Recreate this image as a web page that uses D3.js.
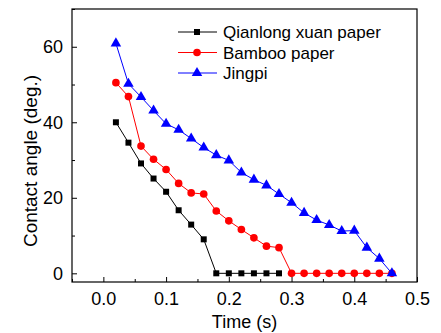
<!DOCTYPE html>
<html>
<head>
<meta charset="utf-8">
<script src="https://cdn.jsdelivr.net/npm/d3@7"></script>
<style>
body { margin: 0; background: #fff; }
text { font-family: Arial, "Liberation Sans", sans-serif; fill: #000; }
</style>
</head>
<body>
<div id="chart"></div>
<script>
// data
var seriesNames = ["Qianlong xuan paper", "Bamboo paper", "Jingpi"];
var seriesColors = ["#000000", "#ff0000", "#0000ff"];
var seriesShapes = ["square", "circle", "triangle"];

var qianlongTime = [0.02, 0.04, 0.06, 0.08, 0.10, 0.12, 0.14, 0.16, 0.18, 0.20, 0.22, 0.24, 0.26, 0.28];
var qianlongAngle = [40.0, 34.6, 29.1, 25.1, 21.6, 16.7, 12.9, 9.0, 0, 0, 0, 0, 0, 0];

var bambooTime = [0.02, 0.04, 0.06, 0.08, 0.10, 0.12, 0.14, 0.16, 0.18, 0.20, 0.22, 0.24, 0.26, 0.28,
	0.30, 0.32, 0.34, 0.36, 0.38, 0.40, 0.42, 0.44, 0.46];
var bambooAngle = [50.5, 46.8, 33.7, 30.2, 27.5, 23.8, 21.3, 21.0, 16.5, 13.9, 11.6, 9.4, 7.2, 6.8,
	0, 0, 0, 0, 0, 0, 0, 0, 0];

var jingpiTime = [0.02, 0.04, 0.06, 0.08, 0.10, 0.12, 0.14, 0.16, 0.18, 0.20, 0.22, 0.24, 0.26, 0.28,
	0.30, 0.32, 0.34, 0.36, 0.38, 0.40, 0.42, 0.44, 0.46];
var jingpiAngle = [60.9, 50.2, 46.7, 43.1, 39.6, 38.0, 35.7, 33.3, 31.3, 29.9, 26.7, 24.8, 23.3, 21.0,
	18.7, 16.0, 14.1, 12.8, 11.2, 11.3, 6.8, 3.9, 0];

var xTicks = [0.0, 0.1, 0.2, 0.3, 0.4, 0.5];
var yTicks = [0, 20, 40, 60];
var xTitle = "Time (s)";
var yTitle = "Contact angle (deg.)";

var w = 441;
var h = 333;
var margin = {top: 9, right: 24, bottom: 51, left: 72};
var pw = w - margin.left - margin.right;
var ph = h - margin.top - margin.bottom;

var series = [
	{name: seriesNames[0], color: seriesColors[0], shape: seriesShapes[0], t: qianlongTime, v: qianlongAngle},
	{name: seriesNames[1], color: seriesColors[1], shape: seriesShapes[1], t: bambooTime, v: bambooAngle},
	{name: seriesNames[2], color: seriesColors[2], shape: seriesShapes[2], t: jingpiTime, v: jingpiAngle}
];

var x = d3.scaleLinear().domain([-0.05, 0.5]).range([0, pw]);
var y = d3.scaleLinear().domain([-2.3, 70]).range([ph, 0]);

var svg = d3.select("#chart").append("svg")
	.attr("width", w)
	.attr("height", h);

var chart = svg.append("g")
	.attr("transform", "translate(" + margin.left + "," + margin.top + ")");

function symbolFor(shape) {
	if (shape == "square") return d3.symbol().type(d3.symbolSquare).size(36);
	if (shape == "circle") return d3.symbol().type(d3.symbolCircle).size(46);
	return d3.symbol().type(d3.symbolTriangle).size(48);
}

// axes, ticks pointing inwards
var xAxis = d3.axisBottom(x).tickValues(xTicks).tickSize(-5).tickPadding(10)
	.tickFormat(d3.format(".1f"));
var xMinor = d3.axisBottom(x).tickValues([-0.05, 0.05, 0.15, 0.25, 0.35, 0.45]).tickSize(-3).tickFormat("");
var yAxis = d3.axisLeft(y).tickValues(yTicks).tickSize(-5).tickPadding(9);
var yMinor = d3.axisLeft(y).tickValues([10, 30, 50, 70]).tickSize(-3).tickFormat("");

function styleAxis(g) {
	g.select(".domain").remove();
	g.selectAll("line").attr("stroke", "#000").attr("stroke-width", 1);
	g.selectAll("text").style("font-size", "18px").attr("fill", "#000");
}

chart.append("g").attr("transform", "translate(0," + ph + ")").call(xAxis).call(styleAxis);
chart.append("g").attr("transform", "translate(0," + ph + ")").call(xMinor).call(styleAxis);
chart.append("g").call(yAxis).call(styleAxis);
chart.append("g").call(yMinor).call(styleAxis);

// frame
chart.append("rect")
	.attr("x", 0)
	.attr("y", 0)
	.attr("width", pw)
	.attr("height", ph)
	.attr("fill", "none")
	.attr("stroke", "#000")
	.attr("stroke-width", 1.2);

var line = d3.line()
	.x(function(d) { return x(d[0]); })
	.y(function(d) { return y(d[1]); });

series.forEach(function(s) {
	var pts = s.t.map(function(t, i) { return [t, s.v[i]]; });
	chart.append("path")
		.datum(pts)
		.attr("fill", "none")
		.attr("stroke", s.color)
		.attr("stroke-width", 1)
		.attr("d", line);
	chart.selectAll(null)
		.data(pts).enter()
		.append("path")
		.attr("d", symbolFor(s.shape))
		.attr("fill", s.color)
		.attr("transform", function(d) { return "translate(" + x(d[0]) + "," + y(d[1]) + ")"; });
});

// legend
var legend = svg.append("g");
series.forEach(function(s, i) {
	var ly = 32 + i * 20.5;
	legend.append("line")
		.attr("x1", 178).attr("x2", 217)
		.attr("y1", ly).attr("y2", ly)
		.attr("stroke", s.color)
		.attr("stroke-width", 1);
	legend.append("path")
		.attr("d", symbolFor(s.shape))
		.attr("fill", s.color)
		.attr("transform", "translate(197," + ly + ")");
	legend.append("text")
		.attr("x", 223)
		.attr("y", ly + 6)
		.style("font-size", "17px")
		.text(s.name);
});

// axis titles
svg.append("text")
	.attr("x", margin.left + x(0.225))
	.attr("y", 328)
	.attr("text-anchor", "middle")
	.style("font-size", "18px")
	.text(xTitle);

svg.append("text")
	.attr("transform", "translate(37,161) rotate(-90)")
	.attr("text-anchor", "middle")
	.style("font-size", "19px")
	.text(yTitle);
</script>
</body>
</html>
